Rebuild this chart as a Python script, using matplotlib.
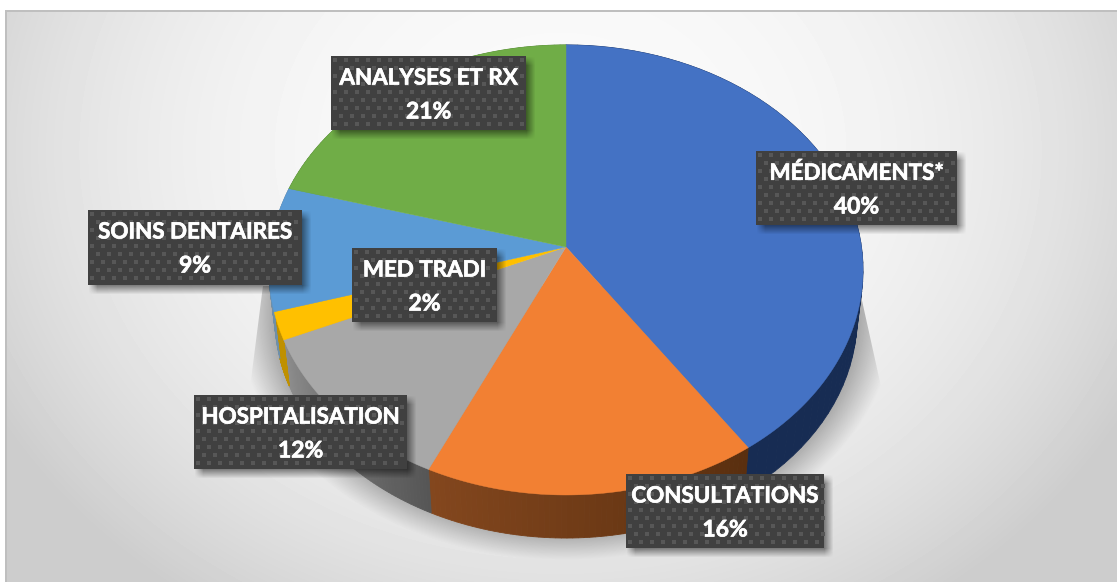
import numpy as np
from matplotlib import pyplot as plt
from matplotlib.colors import to_rgb
from matplotlib.patches import Polygon, Rectangle
import matplotlib.patheffects as pe

W, H = 1117, 582

# tranches dans le sens horaire depuis le haut
labels = ['MÉDICAMENTS*', 'CONSULTATIONS', 'HOSPITALISATION', 'MED TRADI', 'SOINS DENTAIRES', 'ANALYSES ET RX']
percents = [40, 16, 12, 2, 9, 21]
# parts, un peu plus fines que les pourcentages arrondis
shares = [40.45, 16.49, 11.5, 2.0, 8.9, 20.66]

colors = ['#4472c4', '#f28033', '#a8a8a8', '#ffc000', '#5b9bd5', '#70ad47']
wall_left = ['#172c53', '#84471e', '#8e8e8e', '#bf9000', '#6f8fa8', '#54823a']
wall_right = ['#172c53', '#5a2f0f', '#565656', '#bf9000', '#6f8fa8', '#54823a']

# x0, y0, x1, y1 des etiquettes
boxes = [(756, 151, 957, 225), (626, 474, 824, 548), (194, 395, 407, 469),
         (352, 248, 497, 322), (88, 210, 302, 285), (331, 56, 526, 130)]


def project(theta, wall=False):
    # camembert en perspective: theta en radians depuis le haut
    k = 0.102
    w = 1 + k * np.cos(theta)
    x = 295.5 * np.sin(theta) / w
    y = -222.7 * np.cos(theta) / w
    if wall:
        return 566 + 0.98 * x, 295 + 0.98 * y
    return 566 + x, 247 + y


def blur(a, n):
    kernel = np.ones(n) / n
    a = np.apply_along_axis(lambda r: np.convolve(r, kernel, mode='same'), 0, a)
    return np.apply_along_axis(lambda r: np.convolve(r, kernel, mode='same'), 1, a)


yy, xx = np.mgrid[0:H, 0:W]

### Fond
dx = (xx - 560) / 560
dy = (yy - 150) / 476
bg = np.clip(250 - 32 * np.hypot(dx, dy) ** 2.5, 205, 250)

# ombre du camembert sur le fond
r = np.hypot((xx - 566) / 330, (yy - 310) / 250)
fade = np.clip((1 - r) / 0.14, 0, 1)
left_edge = 262 - (yy - 285) * 14 / 110
right_edge = 862 + (yy - 300) * 21 / 95
mask = np.clip(xx - left_edge, 0, 1) * np.clip(right_edge - xx, 0, 1) * np.clip(yy - 285, 0, 1)
bg = bg * (1 - 0.36 * fade * mask)

fig = plt.figure(figsize=(W / 100, H / 100), dpi=100)
ax = fig.add_axes([0, 0, 1, 1])
ax.imshow(bg[12:, 7:], cmap='gray', vmin=0, vmax=255, extent=(7, W, H, 12), aspect='auto', zorder=0)
ax.add_patch(Rectangle((5, 10), W, 2, color='#bfbfbf', lw=0, zorder=1))
ax.add_patch(Rectangle((5, 10), 2, H, color='#bfbfbf', lw=0, zorder=1))

### Camembert
edges = np.cumsum([0] + shares) / sum(shares) * 2 * np.pi

# flancs
for i in range(len(shares)):
    a = np.linspace(edges[i], edges[i + 1], 60)
    left = np.array(to_rgb(wall_left[i]))
    right = np.array(to_rgb(wall_right[i]))
    for j in range(len(a) - 1):
        t = (a[j] - edges[i]) / (edges[i + 1] - edges[i])
        # theta croissant = vers la gauche de l'ecran
        c = right + (left - right) * t
        x0, y0 = project(a[j:j + 2])
        x1, y1 = project(a[j:j + 2], wall=True)
        ax.add_patch(Polygon(np.r_[np.c_[x0, y0], np.c_[x1, y1][::-1]], closed=True,
                             fc=c, ec=c, lw=0.6, zorder=2))

# faces
for i in range(len(shares)):
    a = np.linspace(edges[i], edges[i + 1], 120)
    x, y = project(a)
    pts = np.r_[[[566, 247]], np.c_[x, y]]
    ax.add_patch(Polygon(pts, closed=True, fc=colors[i], ec=colors[i], lw=0.3, zorder=3))

### Etiquettes
shadow = np.zeros((H, W))
for x0, y0, x1, y1 in boxes:
    shadow[y0 + 5:y1 + 5, x0 + 5:x1 + 5] = 1
shadow = blur(shadow, 9) * 0.45
layer = np.zeros((H, W, 4))
layer[..., 3] = shadow
ax.imshow(layer, extent=(0, W, H, 0), aspect='auto', zorder=4)

stroke = [pe.withStroke(linewidth=0.5, foreground='white')]
for (x0, y0, x1, y1), name, pct in zip(boxes, labels, percents):
    ax.add_patch(Rectangle((x0, y0), x1 - x0, y1 - y0, color='#404040', lw=0, zorder=5))
    px, py = [], []
    for n, row in enumerate(np.arange(y0 + 4, y1 - 1, 8)):
        start = x0 + 4 + (n % 2) * 5.5
        for col in np.arange(start, x1 - 1, 11):
            px.append(col)
            py.append(row)
    ax.scatter(px, py, s=5, marker='s', color='#575757', lw=0, zorder=6)
    xc = (x0 + x1) / 2
    ax.text(xc, y0 + 22, name, color='white', fontsize=16.1, family='Lato', weight='bold',
            ha='center', va='center', zorder=7, path_effects=stroke)
    ax.text(xc, y0 + 56, f'{pct}%', color='white', fontsize=16.5, family='Lato', weight='bold',
            ha='center', va='center', zorder=7, path_effects=stroke)

ax.set_xlim(0, W)
ax.set_ylim(H, 0)
ax.axis('off')
fig.savefig('out.png', dpi=100, facecolor='white')
